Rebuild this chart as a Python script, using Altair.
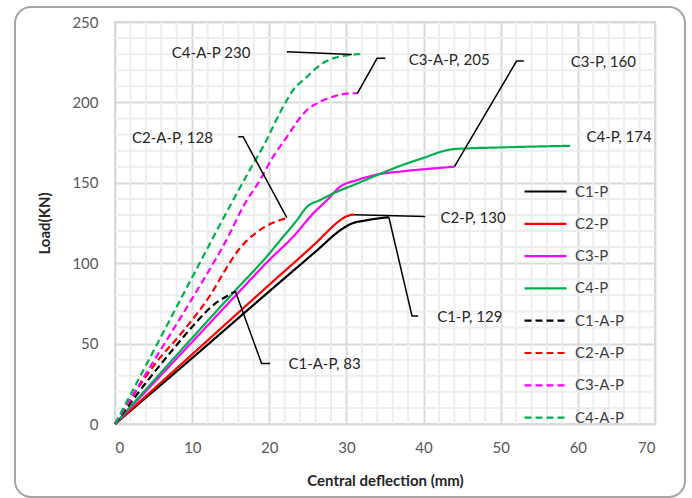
import altair as alt
import pandas as pd

FONT = "Lato"

SERIES = ["C1-P", "C2-P", "C3-P", "C4-P", "C1-A-P", "C2-A-P", "C3-A-P", "C4-A-P"]
COLORS = ["#000000", "#ff0000", "#ff00ff", "#00b050",
          "#000000", "#ff0000", "#ff00ff", "#00b050"]
DASHES = [[1, 0], [1, 0], [1, 0], [1, 0], [7, 4], [7, 4], [7, 4], [7, 4]]

# Load-deflection curves (x: central deflection mm, y: load kN)
c1p_x = [0, 10, 20, 26, 29.5, 30.5, 32.5, 35.5]
c1p_y = [0, 41, 82.5, 107.2, 121.5, 124.3, 126.6, 128.6]
c2p_x = [0, 10, 20, 26, 29, 29.8, 30.4, 31]
c2p_y = [0, 43.3, 86.6, 112.4, 126, 128.7, 129.8, 130.2]
c3p_x = [0, 10, 15.5, 20, 23.1, 25.7, 27.5, 29.2, 31.4, 34.4, 37, 44]
c3p_y = [0, 51, 79.2, 102, 116.5, 131, 139.3, 147.6, 151.7, 155.5, 157, 160]
c4p_x = [0, 10, 15.5, 20, 21.8, 22.9, 23.6, 24.9, 26.6, 28.8, 30.9, 34.4, 37, 40, 42.8, 44, 50, 59]
c4p_y = [0, 53.5, 82.5, 106, 116.5, 122.7, 126.9, 135.1, 139.3, 144.5, 148.6, 155.6, 160.6, 165.5, 170, 171, 172, 173]
c1ap_x = [0, 4.3, 7.8, 10.4, 13, 14.5, 15.6]
c1ap_y = [0, 27.4, 48, 62.6, 75, 79.5, 82.5]
c2ap_x = [0, 5.6, 8.6, 12.5, 14.3, 16, 18.2, 20.3, 22.3]
c2ap_y = [0, 39.8, 56.4, 81.3, 95.8, 108.2, 118.6, 124.8, 128]
c3ap_x = [0, 5, 10, 14.9, 16.6, 18.8, 20.5, 22.3, 23.6, 24.9, 26.6, 28.3, 30.1, 31.4]
c3ap_y = [0, 39, 78, 118.6, 135.1, 151.7, 166.2, 178.7, 188, 195.3, 200.4, 203.6, 205.5, 205.7]
c4ap_x = [0, 5, 11, 15.8, 17.7, 19.2, 21.8, 23.1, 24.9, 26.6, 28.3, 30.5, 31.8]
c4ap_y = [0, 45.5, 100.3, 143.5, 160, 172.5, 197.3, 207.7, 216, 223.3, 227.4, 229.5, 230.1]

curves_x = [c1p_x, c2p_x, c3p_x, c4p_x, c1ap_x, c2ap_x, c3ap_x, c4ap_x]
curves_y = [c1p_y, c2p_y, c3p_y, c4p_y, c1ap_y, c2ap_y, c3ap_y, c4ap_y]

# Data-label texts and their positions (data units)
label_text = ["C4-A-P 230", "C3-A-P, 205", "C3-P, 160", "C4-P, 174",
              "C2-A-P, 128", "C2-P, 130", "C1-P, 129", "C1-A-P, 83"]
label_x = [7.37, 38.07, 59.08, 61.12, 2.2, 42.19, 41.76, 22.48]
label_y = [230.7, 226.4, 224.9, 178.7, 177.7, 128.3, 66.7, 37.1]

# Leader lines from data points to labels
leader_x = [[22.27, 30.7], [31.4, 33.97, 35.05], [44, 52.05, 53],
            [15.98, 16.6, 22.27], [31, 40.2], [35.5, 38.5, 39.3], [15.6, 19.0, 20.1]]
leader_y = [[231.5, 229.8], [205.5, 227.4, 227.4], [160, 225.7, 225.7],
            [178.7, 178.7, 128.3], [130.2, 129.0], [128.6, 67.2, 67.2], [82.5, 37.7, 37.7]]

# Axis ticks (major) and minor gridlines
x_major = [0, 10, 20, 30, 40, 50, 60, 70]
y_major = [0, 50, 100, 150, 200, 250]
x_minor = [v for v in range(2, 70, 2) if v % 10 != 0]
y_minor = [v for v in range(10, 250, 10) if v % 50 != 0]

rows = []
for s, xs, ys in zip(SERIES, curves_x, curves_y):
    for i, (xv, yv) in enumerate(zip(xs, ys)):
        rows.append({"series": s, "x": xv, "y": yv, "i": i})
curves = pd.DataFrame(rows)

lrows = []
for k, (xs, ys) in enumerate(zip(leader_x, leader_y)):
    for i, (xv, yv) in enumerate(zip(xs, ys)):
        lrows.append({"lid": k, "x": xv, "y": yv, "i": i})
leaders = pd.DataFrame(lrows)

labels = pd.DataFrame({"text": label_text, "x": label_x, "y": label_y})

xscale = alt.Scale(domain=[0, 70], nice=False, zero=False)
yscale = alt.Scale(domain=[0, 250], nice=False)

xax = alt.Axis(values=x_major, grid=True, gridColor="#d9d9d9", gridOpacity=1,
               gridWidth=2, ticks=False, tickSize=0,
               domain=False, labelPadding=16, titlePadding=18,
               title="Central deflection (mm)")
yax = alt.Axis(values=y_major, grid=True, gridColor="#d9d9d9", gridOpacity=1,
               gridWidth=2, ticks=False, tickSize=0,
               domain=False, labelPadding=17, titlePadding=19,
               title="Load(KN)")

frame = alt.Chart(pd.DataFrame({"a": [0]})).mark_rect(
    filled=False, stroke="#a6a6a6", strokeWidth=2, cornerRadius=16
).encode(x=alt.value(-100), x2=alt.value(570), y=alt.value(-15), y2=alt.value(475))

vgrid = alt.Chart(pd.DataFrame({"gx": x_minor})).mark_rule(
    color="#eeeeee", strokeWidth=2).encode(x=alt.X("gx:Q", scale=xscale, axis=xax))
hgrid = alt.Chart(pd.DataFrame({"gy": y_minor})).mark_rule(
    color="#eeeeee", strokeWidth=2).encode(y=alt.Y("gy:Q", scale=yscale, axis=yax))

lines = alt.Chart(curves).mark_line(strokeWidth=2.2, interpolate="monotone").encode(
    x=alt.X("x:Q", scale=xscale, axis=xax),
    y=alt.Y("y:Q", scale=yscale, axis=yax),
    color=alt.Color("series:N", scale=alt.Scale(domain=SERIES, range=COLORS),
                    sort=SERIES, title=None,
                    legend=alt.Legend(orient="none", legendX=408, legendY=158.5,
                                      symbolType="stroke", symbolSize=1764,
                                      symbolStrokeWidth=2.2, labelFontSize=15,
                                      labelFont=FONT, labelColor="#404040",
                                      labelOffset=7, clipHeight=22, rowPadding=10.3,
                                      padding=0)),
    strokeDash=alt.StrokeDash("series:N", scale=alt.Scale(domain=SERIES, range=DASHES),
                              sort=SERIES, title=None),
    order="i:Q",
)

lead = alt.Chart(leaders).mark_line(color="#000000", strokeWidth=1.5).encode(
    x="x:Q", y="y:Q", detail="lid:N", order="i:Q"
)

txt = alt.Chart(labels).mark_text(align="left", baseline="middle", font=FONT,
                                  fontSize=15, color="#262626").encode(
    x="x:Q", y="y:Q", text="text:N"
)

chart = alt.layer(frame, vgrid, hgrid, lines, lead, txt).properties(
    width=540, height=402,
    background="white",
    autosize=alt.AutoSizeParams(type="none"),
    padding={"left": 115, "top": 22, "right": 37, "bottom": 74},
).configure_view(stroke="#d9d9d9", strokeWidth=2).configure_axis(
    labelFont=FONT, labelFontSize=15, labelColor="#595959",
    titleFont=FONT, titleFontSize=15, titleFontWeight="bold", titleColor="#262626",
    grid=True, gridColor="#d9d9d9",
)

chart.save("out.html", embed_options={"renderer": "svg", "actions": False})
